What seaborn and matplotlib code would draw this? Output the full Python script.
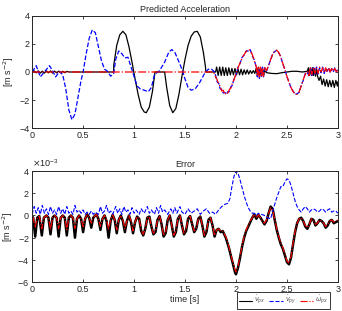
import numpy as np
import matplotlib
matplotlib.use("Agg")
import matplotlib.pyplot as plt
import matplotlib.ticker as mticker
import seaborn as sns

# ---- top panel: predicted acceleration [m s^-2] ----
t_vpx = [0.00, 0.02, 0.04, 0.06, 0.08, 0.10, 0.12, 0.14, 0.16, 0.18, 0.20, 0.22, 0.24, 0.26,
         0.28, 0.30, 0.32, 0.34, 0.36, 0.80, 0.801, 0.83, 0.86, 0.89, 0.92, 0.95, 0.98, 1.01,
         1.04, 1.07, 1.10, 1.12, 1.15, 1.18, 1.20, 1.205, 1.30, 1.32, 1.35, 1.38, 1.41, 1.44,
         1.47, 1.50, 1.53, 1.56, 1.59, 1.62, 1.65, 1.68, 1.70, 1.705, 1.80,
         1.81, 1.825, 1.84, 1.855, 1.87, 1.885, 1.90, 1.915, 1.93, 1.945, 1.96, 1.975, 1.99,
         2.005, 2.02, 2.035, 2.05, 2.065, 2.08, 2.095, 2.11, 2.125, 2.14, 2.155, 2.17, 2.185,
         2.20, 2.21, 2.22, 2.23, 2.24, 2.25, 2.26, 2.27, 2.28, 2.30, 2.35, 2.40, 2.45, 2.50,
         2.55, 2.60, 2.65, 2.70, 2.71, 2.72, 2.73, 2.74, 2.75, 2.76, 2.77, 2.78, 2.79, 2.80,
         2.815, 2.83, 2.845, 2.86, 2.875, 2.89, 2.905, 2.92, 2.935, 2.95, 2.965, 2.98, 2.995, 3.00]
a_vpx = [0.0, 0.08, -0.06, 0.08, -0.08, 0.06, -0.08, 0.08, -0.06, 0.08, -0.08, 0.06, -0.06, 0.06,
         -0.06, 0.05, -0.05, 0.04, 0.0, 0.0, 0.5, 1.9, 2.65, 2.9, 2.65, 1.8, 0.7, -0.5,
         -1.6, -2.5, -2.85, -2.9, -2.5, -1.4, -0.3, 0.0, 0.0, -1.1, -2.4, -2.9, -2.6, -1.6,
         -0.3, 0.9, 1.9, 2.55, 2.85, 2.9, 2.5, 1.4, 0.4, 0.0, 0.0,
         0.35, -0.25, 0.35, -0.25, 0.35, -0.25, 0.3, -0.25, 0.3, -0.2, 0.25, -0.2, 0.25,
         -0.2, 0.2, -0.2, 0.2, -0.2, 0.15, -0.15, 0.15, -0.15, 0.1, -0.1, 0.1, -0.1,
         0.3, -0.3, 0.35, -0.35, 0.3, -0.3, 0.25, -0.25, 0.1, -0.05, -0.1, -0.12, -0.05, 0.0,
         0.05, 0.05, 0.0, 0.05, 0.3, -0.25, 0.3, -0.25, 0.3, -0.25, 0.25, -0.3, 0.2, -0.3,
         -0.6, -0.3, -0.9, -0.5, -1.0, -0.55, -1.05, -0.6, -1.05, -0.6, -1.1, -0.6, -1.0, -0.7]

t_vpy = [0.00, 0.04, 0.08, 0.12, 0.17, 0.20, 0.23, 0.27, 0.30, 0.33, 0.36, 0.39, 0.42, 0.45,
         0.48, 0.50, 0.53, 0.56, 0.59, 0.62, 0.65, 0.68, 0.71, 0.74, 0.77, 0.80, 0.82, 0.85,
         0.88, 0.91, 0.94, 0.96, 1.00, 1.03, 1.06, 1.10, 1.14, 1.17, 1.20, 1.25, 1.30, 1.34,
         1.37, 1.40, 1.43, 1.47, 1.50, 1.53, 1.56, 1.60, 1.64, 1.67, 1.70, 1.73, 1.76, 1.79,
         1.80, 1.815, 1.83, 1.845, 1.86, 1.875, 1.89, 1.905, 1.92, 1.935, 1.95, 1.965, 1.98,
         2.00, 2.02, 2.04, 2.06, 2.08, 2.10, 2.12, 2.14, 2.16, 2.18, 2.20, 2.21, 2.22, 2.23,
         2.24, 2.25, 2.26, 2.27, 2.28, 2.30, 2.32, 2.34, 2.36, 2.38, 2.40, 2.42, 2.44, 2.46,
         2.48, 2.50, 2.52, 2.54, 2.56, 2.58, 2.60, 2.62, 2.64, 2.66, 2.68, 2.70, 2.715, 2.73,
         2.745, 2.76, 2.775, 2.79, 2.805, 2.82, 2.835, 2.85, 2.865, 2.88, 2.895, 2.91, 2.925,
         2.94, 2.955, 2.97, 2.985, 3.00]
a_vpy = [0.0, 0.45, -0.35, 0.0, 0.45, 0.1, -0.35, 0.05, -0.2, -1.2, -2.7, -3.4, -3.0, -1.8,
         -0.6, 0.0, 1.3, 2.4, 3.0, 2.8, 1.8, 0.8, 0.2, 0.05, -0.3, -0.1, 0.9, 1.5,
         1.3, 1.0, 1.05, 0.6, -0.3, -1.0, -1.2, -1.3, -1.4, -1.1, -0.2, 0.1, 0.7, 1.4,
         1.6, 1.4, 0.9, 0.2, -0.5, -1.1, -1.3, -1.2, -0.8, -0.4, 0.0, 0.2, 0.2, 0.0,
         -0.25, -0.7, -0.8, -1.2, -1.25, -1.5, -1.45, -1.6, -1.4, -1.4, -1.05, -0.95, -0.5,
         -0.2, 0.35, 0.6, 1.05, 1.2, 1.5, 1.5, 1.6, 1.15, 0.85, 0.3, -0.35, 0.3, -0.45,
         0.3, -0.3, 0.35, -0.35, 0.3, 0.05, 0.5, 0.85, 1.3, 1.45, 1.55, 1.35, 1.1, 0.55,
         0.2, -0.35, -0.7, -1.15, -1.35, -1.6, -1.55, -1.45, -0.95, -0.6, -0.1, 0.0, -0.3, 0.3,
         -0.25, 0.3, -0.15, 0.35, -0.15, 0.3, -0.05, 0.35, -0.1, 0.25, 0.05, 0.3, -0.05,
         0.25, 0.0, 0.3, 0.05, 0.15]

t_wpx = [0.00, 1.78, 1.80, 1.815, 1.83, 1.845, 1.86, 1.875, 1.89, 1.905, 1.92, 1.935, 1.95,
         1.965, 1.98, 2.00, 2.02, 2.04, 2.06, 2.08, 2.10, 2.12, 2.14, 2.16, 2.18, 2.20, 2.21,
         2.22, 2.23, 2.24, 2.25, 2.26, 2.27, 2.28, 2.30, 2.32, 2.34, 2.36, 2.38, 2.40, 2.42,
         2.44, 2.46, 2.48, 2.50, 2.52, 2.54, 2.56, 2.58, 2.60, 2.62, 2.64, 2.66, 2.68, 2.70,
         2.715, 2.73, 2.745, 2.76, 2.775, 2.79, 2.805, 2.82, 2.835, 2.85, 2.865, 2.88, 2.895,
         2.91, 2.925, 2.94, 2.955, 2.97, 2.985, 3.00]
a_wpx = [0.0, 0.0, -0.35, -0.55, -0.85, -1.0, -1.35, -1.3, -1.6, -1.45, -1.5, -1.25, -1.15,
         -0.8, -0.55, -0.15, 0.3, 0.65, 1.0, 1.25, 1.45, 1.6, 1.55, 1.25, 0.8, 0.35, -0.3,
         0.4, -0.35, 0.35, -0.35, 0.3, -0.3, 0.35, 0.1, 0.45, 0.9, 1.25, 1.5, 1.55, 1.4,
         1.05, 0.6, 0.15, -0.3, -0.75, -1.1, -1.4, -1.55, -1.6, -1.4, -1.0, -0.55, -0.15, 0.05,
         -0.25, 0.35, -0.2, 0.35, -0.1, 0.3, -0.1, 0.35, 0.0, 0.3, -0.05, 0.3, 0.0,
         0.3, 0.0, 0.3, 0.05, 0.25, 0.0, 0.2]

# ---- bottom panel: error, in units of 1e-3 m s^-2 ----
t_err_vpx = [0.00, 0.01, 0.03, 0.05, 0.07, 0.095, 0.115, 0.14, 0.16, 0.18, 0.20, 0.22, 0.24,
             0.26, 0.28, 0.30, 0.32, 0.34, 0.36, 0.38, 0.40, 0.42, 0.44, 0.46, 0.48, 0.50,
             0.52, 0.54, 0.56, 0.58, 0.60, 0.63, 0.65, 0.67, 0.69, 0.71, 0.73, 0.75, 0.77,
             0.79, 0.81, 0.83, 0.85, 0.87, 0.89, 0.91, 0.93, 0.95, 0.97, 0.99, 1.01, 1.03,
             1.05, 1.07, 1.09, 1.11, 1.13, 1.15, 1.17, 1.19, 1.21, 1.23, 1.25, 1.27, 1.29,
             1.31, 1.33, 1.35, 1.37, 1.39, 1.41, 1.43, 1.45, 1.47, 1.49, 1.51, 1.53, 1.55,
             1.57, 1.59, 1.61, 1.63, 1.65, 1.67, 1.69, 1.71, 1.73, 1.75, 1.77, 1.79, 1.81,
             1.83, 1.85, 1.87, 1.90, 1.93, 1.96, 1.99, 2.00, 2.02, 2.04, 2.06, 2.08, 2.10,
             2.12, 2.14, 2.16, 2.18, 2.20, 2.22, 2.24, 2.26, 2.28, 2.30, 2.32, 2.34, 2.36,
             2.38, 2.40, 2.42, 2.44, 2.46, 2.48, 2.50, 2.52, 2.54, 2.56, 2.58, 2.60, 2.62,
             2.64, 2.66, 2.68, 2.70, 2.72, 2.74, 2.76, 2.78, 2.80, 2.82, 2.84, 2.86, 2.88,
             2.90, 2.92, 2.94, 2.96, 2.98, 3.00]
e_vpx = [-0.1, -0.2, -1.9, -0.2, -0.05, -1.8, -0.2, 0.0, -0.2, -1.7, -0.2, 0.0, -0.2,
         -1.9, -0.2, 0.0, -0.2, -1.8, -0.2, 0.0, -0.2, -2.0, -0.3, 0.0, -0.3, -1.5,
         -0.3, 0.1, -0.2, -1.1, -0.2, 0.1, -0.3, -1.3, -0.3, 0.0, -0.5, -2.0, -0.5,
         0.05, -0.4, -1.6, -0.4, 0.0, -0.5, -1.5, -0.5, 0.0, -0.6, -1.6, -0.6, -0.1,
         -0.3, -1.4, -1.8, -1.2, -0.2, -0.1, -1.0, -1.7, -1.5, -0.4, -0.05, -0.8, -1.9,
         -1.6, -0.4, 0.0, -0.9, -1.9, -1.5, -0.3, 0.0, -0.9, -1.7, -1.4, -0.3, -0.05,
         -0.8, -1.5, -1.2, -0.3, -0.1, -0.9, -1.9, -1.5, -0.4, -0.2, -0.9, -1.9, -1.3,
         -1.2, -1.5, -1.4, -2.0, -2.9, -4.0, -5.1, -5.3, -4.7, -3.8, -2.8, -2.0, -1.4,
         -1.0, -0.6, -0.2, 0.1, -0.3, 0.05, -0.2, -0.5, -0.8, -0.5, 0.2, 0.8, 0.6,
         -0.4, -1.3, -2.0, -2.6, -3.0, -3.6, -4.2, -4.4, -3.8, -2.6, -1.5, -0.7, -0.3,
         -0.2, -0.5, -1.0, -1.2, -0.8, -0.3, -0.4, -0.9, -0.7, -0.4, -0.5, -0.7, -1.1,
         -0.9, -0.5, -0.4, -0.7, -0.6, -0.5]

e_wpx = [-0.1, -0.2, -1.1, -0.2, -0.05, -1.2, -0.2, 0.0, -0.2, -1.3, -0.2, 0.0, -0.2,
         -1.2, -0.2, 0.0, -0.2, -1.3, -0.2, 0.0, -0.2, -1.2, -0.3, 0.0, -0.3, -1.0,
         -0.3, 0.1, -0.2, -0.7, -0.2, 0.1, -0.3, -1.0, -0.3, 0.0, -0.4, -1.3, -0.4,
         0.05, -0.4, -1.3, -0.4, 0.0, -0.4, -1.2, -0.5, 0.0, -0.5, -1.4, -0.6, -0.1,
         -0.3, -1.3, -1.7, -1.2, -0.2, -0.1, -1.0, -1.6, -1.4, -0.4, -0.05, -0.8, -1.8,
         -1.5, -0.4, 0.0, -0.9, -1.8, -1.4, -0.3, 0.0, -0.9, -1.6, -1.3, -0.3, -0.05,
         -0.8, -1.4, -1.2, -0.3, -0.1, -0.9, -1.8, -1.4, -0.4, -0.2, -0.9, -1.8, -1.3,
         -1.2, -1.4, -1.4, -1.9, -2.8, -3.9, -4.9, -5.1, -4.6, -3.7, -2.7, -1.9, -1.3,
         -0.9, -0.5, -0.2, 0.1, -0.2, 0.05, -0.2, -0.5, -0.7, -0.4, 0.2, 0.7, 0.5,
         -0.4, -1.2, -1.9, -2.5, -2.9, -3.5, -4.1, -4.3, -3.7, -2.5, -1.4, -0.7, -0.3,
         -0.2, -0.5, -0.9, -1.1, -0.8, -0.3, -0.4, -0.8, -0.7, -0.4, -0.5, -0.7, -1.0,
         -0.8, -0.5, -0.4, -0.6, -0.5, -0.4]

t_err_vpy = [0.00, 0.02, 0.04, 0.06, 0.08, 0.10, 0.12, 0.14, 0.16, 0.18, 0.20, 0.22, 0.24,
             0.26, 0.28, 0.30, 0.32, 0.34, 0.36, 0.38, 0.40, 0.42, 0.44, 0.46, 0.48, 0.50,
             0.52, 0.54, 0.56, 0.58, 0.60, 0.62, 0.65, 0.67, 0.69, 0.71, 0.73, 0.75, 0.77,
             0.79, 0.82, 0.84, 0.86, 0.88, 0.90, 0.92, 0.94, 0.96, 0.98, 1.00, 1.02, 1.05,
             1.07, 1.10, 1.13, 1.15, 1.17, 1.20, 1.22, 1.24, 1.26, 1.28, 1.30, 1.33, 1.36,
             1.38, 1.40, 1.42, 1.45, 1.47, 1.50, 1.53, 1.56, 1.59, 1.62, 1.65, 1.68, 1.71,
             1.74, 1.77, 1.80, 1.83, 1.86, 1.89, 1.92, 1.94, 1.96, 1.98, 2.00, 2.02, 2.04,
             2.06, 2.08, 2.10, 2.12, 2.14, 2.16, 2.18, 2.20, 2.22, 2.25, 2.28, 2.31, 2.34,
             2.36, 2.38, 2.40, 2.42, 2.44, 2.46, 2.48, 2.50, 2.52, 2.54, 2.56, 2.58, 2.60,
             2.62, 2.64, 2.66, 2.68, 2.70, 2.72, 2.74, 2.76, 2.78, 2.80, 2.82, 2.84, 2.86,
             2.88, 2.90, 2.92, 2.94, 2.96, 2.98, 3.00]
e_vpy = [0.1, 0.8, 0.2, 0.7, 0.1, 0.9, 0.2, 0.6, 0.1, 0.8, 0.2, 0.5, 0.1,
         0.8, 0.2, 0.6, 0.1, 0.8, 0.2, 0.4, 0.1, 0.9, 0.3, 0.5, 0.2, 0.5,
         0.1, 0.3, 0.1, 0.4, 0.1, 0.3, 0.1, 0.8, 0.2, 0.4, 0.9, 0.2, 0.4,
         0.1, 0.8, 0.2, 0.6, 0.1, 0.8, 0.3, 0.5, 0.1, 0.7, 0.2, 0.5, 0.1,
         0.6, 0.2, 0.8, 0.2, 0.5, 0.1, 0.7, 0.2, 0.9, 0.3, 0.5, 0.1, 0.6,
         0.2, 0.7, 0.2, 0.8, 0.3, 0.1, 0.6, 0.2, 0.4, 0.6, 0.1, 0.4, 0.6,
         0.2, 0.3, 0.1, 0.5, 0.8, 1.0, 1.1, 1.5, 2.6, 3.5, 4.0, 3.8, 3.2,
         2.5, 1.8, 1.2, 0.7, 0.4, 0.2, 0.2, 0.0, 0.2, 0.1, 0.0, -0.2, -0.3,
         0.4, 1.0, 1.6, 2.1, 2.6, 2.6, 3.0, 3.3, 3.2, 2.7, 2.0, 1.3, 0.8,
         0.5, 0.3, 0.6, 0.8, 0.6, 0.3, 0.5, 0.6, 0.5, 0.3, 0.4, 0.6, 0.5,
         0.3, 0.5, 0.6, 0.3, 0.4, 0.4, 0.2]

legend_labels = [r"$\dot{v}_{px}$", r"$\dot{v}_{py}$", r"$\dot{\omega}_{px}$"]

sns.set_theme(style="ticks")
plt.rcParams["font.family"] = ["Liberation Sans", "DejaVu Sans"]
plt.rcParams.update({
    "font.size": 6.5,
    "axes.linewidth": 0.7,
    "xtick.direction": "in",
    "ytick.direction": "in",
    "xtick.top": True,
    "ytick.right": True,
    "xtick.major.size": 2.5,
    "ytick.major.size": 2.5,
    "xtick.major.width": 0.6,
    "ytick.major.width": 0.6,
    "xtick.labelsize": 6.5,
    "ytick.labelsize": 6.5,
    "xtick.major.pad": 2,
    "ytick.major.pad": 2,
})

fig = plt.figure(figsize=(3.42, 3.11), dpi=100)
ax1 = fig.add_axes([0.094, 0.588, 0.894, 0.361])
ax2 = fig.add_axes([0.094, 0.093, 0.894, 0.357])

# top
sns.lineplot(x=t_vpx, y=a_vpx, ax=ax1, color="black", lw=0.9, sort=False, estimator=None)
sns.lineplot(x=t_vpy, y=a_vpy, ax=ax1, color="#0000ff", lw=0.9, linestyle="--",
             sort=False, estimator=None)
sns.lineplot(x=t_wpx, y=a_wpx, ax=ax1, color="#ff0000", lw=0.9, linestyle="-.",
             sort=False, estimator=None)
ax1.set_xlim(0, 3)
ax1.set_ylim(-4, 4)
ax1.set_yticks([-4, -2, 0, 2, 4])
ax1.set_xticks([0, 0.5, 1, 1.5, 2, 2.5, 3])
ax1.set_xticklabels(["0", "0.5", "1", "1.5", "2", "2.5", "3"])
ax1.set_title("Predicted Acceleration", fontsize=6.5, pad=3)
ax1.set_ylabel(r"[m s$^{-2}$]", fontsize=6.5, labelpad=2)

# bottom
scale = 1e-3
sns.lineplot(x=t_err_vpx, y=np.array(e_vpx) * scale, ax=ax2, color="black", lw=1.8,
             sort=False, estimator=None, label=legend_labels[0])
sns.lineplot(x=t_err_vpy, y=np.array(e_vpy) * scale, ax=ax2, color="#0000ff", lw=0.8,
             linestyle="--", sort=False, estimator=None, label=legend_labels[1])
sns.lineplot(x=t_err_vpx, y=np.array(e_wpx) * scale, ax=ax2, color="#ff0000", lw=0.8,
             linestyle="-.", sort=False, estimator=None, label=legend_labels[2])
ax2.set_xlim(0, 3)
ax2.set_ylim(-6e-3, 4e-3)
ax2.set_yticks([-6e-3, -4e-3, -2e-3, 0, 2e-3, 4e-3])
fmt = mticker.ScalarFormatter(useMathText=True)
fmt.set_powerlimits((-2, 2))
ax2.yaxis.set_major_formatter(fmt)
ax2.yaxis.get_offset_text().set_fontsize(6.5)
ax2.set_xticks([0, 0.5, 1, 1.5, 2, 2.5, 3])
ax2.set_xticklabels(["0", "0.5", "1", "1.5", "2", "2.5", "3"])
ax2.set_title("Error", fontsize=6.5, pad=3)
ax2.set_ylabel(r"[m s$^{-2}$]", fontsize=6.5, labelpad=2)
ax2.set_xlabel("time [s]", fontsize=6.5, labelpad=1)

leg = ax2.legend(loc="center right", bbox_to_anchor=(0.974, -0.168), ncol=3, fontsize=4.8,
                 frameon=True, fancybox=False, edgecolor="black", handlelength=2.0,
                 columnspacing=0.5, handletextpad=0.3, borderpad=0.25, borderaxespad=0,
                 labelcolor="#555555")
leg.get_frame().set_linewidth(0.7)
for line in leg.get_lines():
    line.set_linewidth(0.8)

fig.savefig("out.png", dpi=100)
